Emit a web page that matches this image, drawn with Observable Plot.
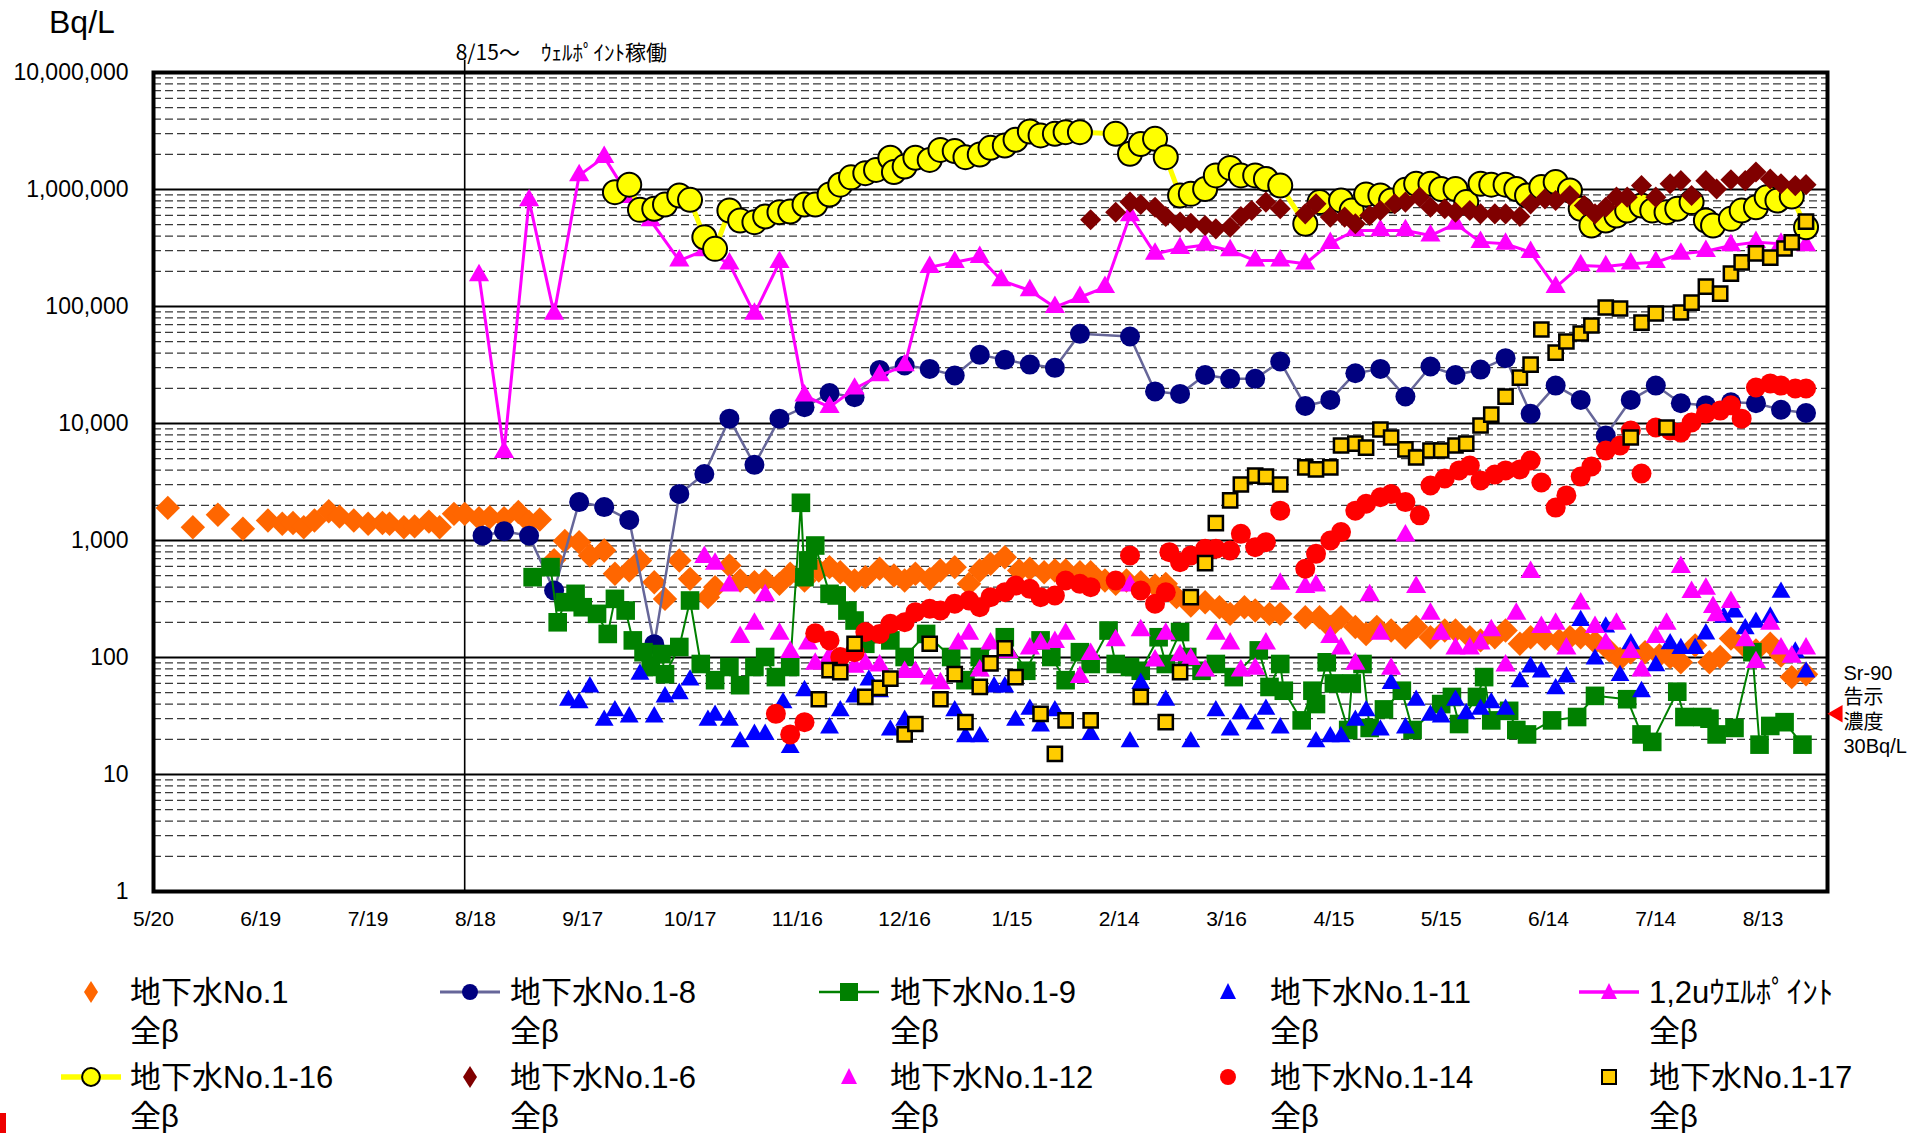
<!DOCTYPE html>
<html><head><meta charset="utf-8">
<script src="https://cdn.jsdelivr.net/npm/d3@7"></script>
<script src="https://cdn.jsdelivr.net/npm/@observablehq/plot@0.6"></script>
<style>
body{margin:0;background:#fff;width:1930px;height:1133px;position:relative;overflow:hidden;font-family:"Liberation Sans",Arial,"Noto Sans CJK JP",sans-serif;color:#000}
#chart{position:absolute;left:0;top:0}
.unit{position:absolute;left:49px;top:4px;font-size:32px;line-height:37px}
.lg{position:absolute;font-size:31px;line-height:39px;white-space:nowrap}
.sw{position:absolute;overflow:visible}
.redmark{position:absolute;left:0;top:1113px;width:6px;height:20px;background:#e00}
</style></head><body>
<div id="chart"></div>
<div class="unit">Bq/L</div>
<div id="legend"></div>
<div class="redmark"></div>
<script>
// ---------- data (date, Bq/L) ----------
const no1 = [["2013-05-24",1900],["2013-05-31",1300],["2013-06-07",1660],["2013-06-14",1260],["2013-06-21",1480],["2013-06-25",1390],["2013-06-28",1410],["2013-07-01",1300],["2013-07-04",1480],["2013-07-08",1780],["2013-07-11",1600],["2013-07-15",1480],["2013-07-19",1390],["2013-07-23",1410],["2013-07-25",1390],["2013-07-29",1300],["2013-08-01",1320],["2013-08-05",1450],["2013-08-08",1300],["2013-08-12",1690],["2013-08-15",1690],["2013-08-19",1550],["2013-08-22",1580],["2013-08-26",1550],["2013-08-30",1750],["2013-09-02",1440],["2013-09-05",1510],["2013-09-09",680],["2013-09-12",990],["2013-09-16",968],["2013-09-19",744],["2013-09-23",822],["2013-09-26",519],["2013-09-30",554],["2013-10-03",675],["2013-10-07",440],["2013-10-10",317],["2013-10-14",675],["2013-10-17",470],["2013-10-22",328],["2013-10-24",399],["2013-10-28",611],["2013-10-31",455],["2013-11-04",440],["2013-11-07",455],["2013-11-11",426],["2013-11-14",519],["2013-11-18",455],["2013-11-22",554],["2013-11-25",592],["2013-11-28",536],["2013-12-02",455],["2013-12-05",486],["2013-12-09",573],["2013-12-13",502],["2013-12-16",455],["2013-12-19",519],["2013-12-23",470],["2013-12-26",554],["2013-12-30",592],["2014-01-03",426],["2014-01-06",554],["2014-01-09",632],["2014-01-13",720],["2014-01-17",554],["2014-01-20",573],["2014-01-24",536],["2014-01-27",554],["2014-01-30",554],["2014-02-03",536],["2014-02-06",536],["2014-02-10",455],["2014-02-13",426],["2014-02-16",455],["2014-02-20",440],["2014-02-24",412],["2014-02-27",426],["2014-03-02",328],["2014-03-06",278],["2014-03-10",297],["2014-03-14",269],["2014-03-17",236],["2014-03-21",269],["2014-03-24",252],["2014-03-28",236],["2014-03-31",236],["2014-04-07",221],["2014-04-11",221],["2014-04-14",182],["2014-04-17",221],["2014-04-21",182],["2014-04-24",159],["2014-04-27",182],["2014-05-01",170],["2014-05-05",149],["2014-05-08",182],["2014-05-12",149],["2014-05-16",170],["2014-05-19",170],["2014-05-23",149],["2014-05-26",140],["2014-05-30",149],["2014-06-02",170],["2014-06-06",131],["2014-06-09",149],["2014-06-13",145],["2014-06-17",140],["2014-06-20",149],["2014-06-23",149],["2014-06-27",135],["2014-07-01",115],["2014-07-04",97],["2014-07-07",111],["2014-07-11",111],["2014-07-15",104],["2014-07-18",101],["2014-07-21",91],["2014-07-25",127],["2014-07-29",91],["2014-08-01",101],["2014-08-04",145],["2014-08-08",123],["2014-08-11",115],["2014-08-15",131],["2014-08-18",104],["2014-08-21",68],["2014-08-25",72]];

const no1_8 = [["2013-08-20",1100],["2013-08-26",1200],["2013-09-02",1100],["2013-09-09",374],["2013-09-16",2130],["2013-09-23",1930],["2013-09-30",1500],["2013-10-07",130],["2013-10-14",2500],["2013-10-21",3700],["2013-10-28",11000],["2013-11-04",4430],["2013-11-11",11000],["2013-11-18",13800],["2013-11-25",18200],["2013-12-02",16800],["2013-12-09",28700],["2013-12-16",31300],["2013-12-23",29300],["2013-12-30",25700],["2014-01-06",38600],["2014-01-13",35000],["2014-01-20",31900],["2014-01-27",29900],["2014-02-03",58400],["2014-02-17",55400],["2014-02-24",18800],["2014-03-03",17900],["2014-03-10",26000],["2014-03-17",24100],["2014-03-24",24100],["2014-03-31",33900],["2014-04-07",14100],["2014-04-14",15900],["2014-04-21",26900],["2014-04-28",29300],["2014-05-05",17000],["2014-05-12",30700],["2014-05-19",26000],["2014-05-26",28900],["2014-06-02",36200],["2014-06-09",12100],["2014-06-16",21100],["2014-06-23",15900],["2014-06-30",7900],["2014-07-07",15900],["2014-07-14",21100],["2014-07-21",14900],["2014-07-28",14300],["2014-08-04",15200],["2014-08-11",14900],["2014-08-18",13100],["2014-08-25",12300]];

const no1_9 = [["2013-09-03",486],["2013-09-08",592],["2013-09-10",200],["2013-09-12",297],["2013-09-15",350],["2013-09-17",269],["2013-09-21",236],["2013-09-24",159],["2013-09-26",317],["2013-09-29",252],["2013-10-01",140],["2013-10-04",111],["2013-10-06",83],["2013-10-09",107],["2013-10-10",72],["2013-10-14",123],["2013-10-17",307],["2013-10-20",88],["2013-10-24",64],["2013-10-28",83],["2013-10-31",58],["2013-11-04",83],["2013-11-07",101],["2013-11-10",68],["2013-11-14",83],["2013-11-17",2100],["2013-11-18",486],["2013-11-19",675],["2013-11-21",906],["2013-11-25",350],["2013-11-27",339],["2013-11-30",252],["2013-12-02",207],["2013-12-05",131],["2013-12-12",140],["2013-12-16",101],["2013-12-22",159],["2013-12-29",101],["2014-01-02",64],["2014-01-06",101],["2014-01-13",149],["2014-01-19",77],["2014-01-23",140],["2014-01-26",101],["2014-01-30",64],["2014-02-03",111],["2014-02-06",88],["2014-02-11",170],["2014-02-13",88],["2014-02-17",83],["2014-02-20",77],["2014-02-25",149],["2014-02-27",88],["2014-03-03",165],["2014-03-05",101],["2014-03-09",77],["2014-03-13",88],["2014-03-18",68],["2014-03-25",115],["2014-03-28",56],["2014-03-31",88],["2014-04-01",52],["2014-04-06",29],["2014-04-09",52],["2014-04-10",40],["2014-04-13",91],["2014-04-15",60],["2014-04-19",24],["2014-04-20",60],["2014-04-23",88],["2014-04-25",25],["2014-04-29",36],["2014-05-04",52],["2014-05-07",24],["2014-05-15",40],["2014-05-18",46],["2014-05-20",27],["2014-05-25",46],["2014-05-27",68],["2014-05-29",29],["2014-06-03",35],["2014-06-05",24],["2014-06-08",22],["2014-06-15",29],["2014-06-22",31],["2014-06-27",47],["2014-07-06",44],["2014-07-10",22],["2014-07-13",19],["2014-07-20",51],["2014-07-22",31],["2014-07-27",31],["2014-07-29",30],["2014-07-31",22],["2014-08-05",25],["2014-08-10",111],["2014-08-12",18],["2014-08-15",26],["2014-08-19",28],["2014-08-24",18]];

const no1_11 = [["2013-09-13",43],["2013-09-16",41],["2013-09-19",56],["2013-09-23",29],["2013-09-26",35],["2013-09-30",31],["2013-10-03",72],["2013-10-07",31],["2013-10-10",46],["2013-10-14",49],["2013-10-17",64],["2013-10-22",29],["2013-10-24",32],["2013-10-28",29],["2013-10-31",19],["2013-11-04",22],["2013-11-07",22],["2013-11-12",41],["2013-11-14",17],["2013-11-18",52],["2013-11-25",25],["2013-11-28",35],["2013-12-02",46],["2013-12-06",64],["2013-12-09",51],["2013-12-12",24],["2013-12-16",29],["2013-12-30",35],["2014-01-02",21],["2014-01-06",21],["2014-01-10",56],["2014-01-13",56],["2014-01-16",29],["2014-01-20",36],["2014-01-23",26],["2014-01-27",35],["2014-02-06",22],["2014-02-17",19],["2014-02-20",60],["2014-02-27",43],["2014-03-06",19],["2014-03-13",35],["2014-03-17",24],["2014-03-20",33],["2014-03-24",27],["2014-03-27",36],["2014-03-31",25],["2014-04-10",19],["2014-04-14",21],["2014-04-17",21],["2014-04-21",29],["2014-04-24",35],["2014-04-28",24],["2014-05-01",60],["2014-05-05",25],["2014-05-08",43],["2014-05-12",32],["2014-05-15",31],["2014-05-19",43],["2014-05-22",33],["2014-05-26",36],["2014-05-29",41],["2014-06-02",36],["2014-06-06",62],["2014-06-09",83],["2014-06-12",75],["2014-06-16",54],["2014-06-19",68],["2014-06-23",207],["2014-06-27",97],["2014-06-30",182],["2014-07-04",70],["2014-07-07",131],["2014-07-10",51],["2014-07-14",85],["2014-07-18",131],["2014-07-21",119],["2014-07-25",119],["2014-07-28",159],["2014-08-02",221],["2014-08-05",244],["2014-08-08",176],["2014-08-11",200],["2014-08-15",221],["2014-08-18",361],["2014-08-22",111],["2014-08-25",75]];

const wellPoint = [["2013-08-19",184000],["2013-08-26",5700],["2013-09-02",805000],["2013-09-09",86500],["2013-09-16",1320000],["2013-09-23",1890000],["2013-09-30",860000],["2013-10-06",543000],["2013-10-14",247000],["2013-10-21",301000],["2013-10-28",232000],["2013-11-04",86500],["2013-11-11",239000],["2013-11-18",17300],["2013-11-25",13800],["2013-12-02",19800],["2013-12-09",25700],["2013-12-16",31300],["2013-12-23",217000],["2013-12-30",239000],["2014-01-06",264000],["2014-01-12",167000],["2014-01-20",137000],["2014-01-27",98700],["2014-02-03",120000],["2014-02-10",146000],["2014-02-17",600000],["2014-02-24",282000],["2014-03-03",315000],["2014-03-10",336000],["2014-03-17",301000],["2014-03-24",247000],["2014-03-31",247000],["2014-04-07",232000],["2014-04-14",348000],["2014-04-21",446000],["2014-04-28",446000],["2014-05-05",446000],["2014-05-12",404000],["2014-05-19",509000],["2014-05-26",355000],["2014-06-02",343000],["2014-06-09",291000],["2014-06-16",146000],["2014-06-23",224000],["2014-06-30",220000],["2014-07-07",232000],["2014-07-14",239000],["2014-07-21",282000],["2014-07-28",297000],["2014-08-04",332000],["2014-08-11",355000],["2014-08-18",343000],["2014-08-25",332000]];

const no1_16 = [["2013-09-26",949000],["2013-09-30",1100000],["2013-10-03",670000],["2013-10-07",684000],["2013-10-10",745000],["2013-10-14",889000],["2013-10-17",816000],["2013-10-21",391000],["2013-10-24",311000],["2013-10-28",662000],["2013-10-31",543000],["2013-11-04",526000],["2013-11-07",588000],["2013-11-11",640000],["2013-11-14",648000],["2013-11-18",745000],["2013-11-21",745000],["2013-11-25",906000],["2013-11-28",1100000],["2013-12-01",1270000],["2013-12-05",1380000],["2013-12-08",1470000],["2013-12-12",1870000],["2013-12-13",1410000],["2013-12-16",1570000],["2013-12-19",1870000],["2013-12-23",1790000],["2013-12-26",2180000],["2013-12-30",2130000],["2014-01-02",1890000],["2014-01-06",1990000],["2014-01-09",2270000],["2014-01-13",2380000],["2014-01-16",2660000],["2014-01-20",3130000],["2014-01-23",2900000],["2014-01-27",2990000],["2014-01-30",3090000],["2014-02-03",3090000],["2014-02-13",2990000],["2014-02-17",2020000],["2014-02-20",2450000],["2014-02-24",2710000],["2014-02-27",1890000],["2014-03-03",889000],["2014-03-06",918000],["2014-03-10",1010000],["2014-03-13",1320000],["2014-03-17",1530000],["2014-03-20",1320000],["2014-03-24",1320000],["2014-03-27",1230000],["2014-03-31",1080000],["2014-04-07",509000],["2014-04-11",780000],["2014-04-17",805000],["2014-04-20",662000],["2014-04-24",906000],["2014-04-28",889000],["2014-05-01",805000],["2014-05-05",993000],["2014-05-08",1120000],["2014-05-12",1120000],["2014-05-15",1010000],["2014-05-19",1010000],["2014-05-22",780000],["2014-05-26",1120000],["2014-05-29",1100000],["2014-06-02",1100000],["2014-06-05",1010000],["2014-06-08",889000],["2014-06-12",1050000],["2014-06-16",1160000],["2014-06-20",980000],["2014-06-23",684000],["2014-06-26",492000],["2014-06-30",543000],["2014-07-03",600000],["2014-07-06",662000],["2014-07-10",730000],["2014-07-13",662000],["2014-07-17",640000],["2014-07-20",684000],["2014-07-24",780000],["2014-07-28",543000],["2014-07-30",492000],["2014-08-04",561000],["2014-08-07",662000],["2014-08-11",706000],["2014-08-14",860000],["2014-08-17",805000],["2014-08-21",871000],["2014-08-25",476000]];

const no1_6 = [["2014-02-06",551000],["2014-02-13",640000],["2014-02-17",780000],["2014-02-20",745000],["2014-02-24",706000],["2014-02-27",588000],["2014-03-03",526000],["2014-03-06",515000],["2014-03-10",492000],["2014-03-13",461000],["2014-03-17",476000],["2014-03-20",588000],["2014-03-23",662000],["2014-03-27",780000],["2014-03-31",684000],["2014-04-07",619000],["2014-04-10",754000],["2014-04-14",581000],["2014-04-18",581000],["2014-04-21",509000],["2014-04-25",600000],["2014-04-28",662000],["2014-05-02",754000],["2014-05-05",780000],["2014-05-09",860000],["2014-05-12",706000],["2014-05-16",684000],["2014-05-19",640000],["2014-05-23",662000],["2014-05-26",619000],["2014-05-30",619000],["2014-06-02",619000],["2014-06-06",588000],["2014-06-09",754000],["2014-06-13",831000],["2014-06-16",805000],["2014-06-20",889000],["2014-06-24",730000],["2014-06-27",619000],["2014-06-30",706000],["2014-07-03",860000],["2014-07-06",860000],["2014-07-10",1080000],["2014-07-14",860000],["2014-07-18",1120000],["2014-07-21",1190000],["2014-07-24",889000],["2014-07-28",1190000],["2014-07-31",1010000],["2014-08-04",1210000],["2014-08-08",1190000],["2014-08-11",1410000],["2014-08-15",1230000],["2014-08-18",1120000],["2014-08-22",1080000],["2014-08-25",1100000]];

const no1_12 = [["2013-10-21",720],["2013-10-24",632],["2013-10-28",412],["2013-10-31",149],["2013-11-04",194],["2013-11-07",339],["2013-11-11",159],["2013-11-14",111],["2013-11-19",131],["2013-11-21",88],["2013-11-25",101],["2013-12-02",83],["2013-12-05",88],["2013-12-09",85],["2013-12-16",75],["2013-12-19",75],["2013-12-23",66],["2013-12-26",60],["2013-12-31",131],["2014-01-03",159],["2014-01-06",77],["2014-01-09",131],["2014-01-14",111],["2014-01-20",119],["2014-01-23",131],["2014-01-27",135],["2014-01-30",159],["2014-02-03",68],["2014-02-06",107],["2014-02-13",140],["2014-02-17",412],["2014-02-20",170],["2014-02-24",94],["2014-02-27",159],["2014-03-03",104],["2014-03-06",97],["2014-03-10",77],["2014-03-13",159],["2014-03-17",131],["2014-03-20",77],["2014-03-24",80],["2014-03-27",131],["2014-03-31",426],["2014-04-07",399],["2014-04-10",412],["2014-04-14",149],["2014-04-17",119],["2014-04-21",88],["2014-04-25",339],["2014-04-28",159],["2014-05-01",80],["2014-05-05",1100],["2014-05-08",399],["2014-05-12",236],["2014-05-15",159],["2014-05-19",119],["2014-05-23",119],["2014-05-26",131],["2014-05-29",170],["2014-06-02",85],["2014-06-05",236],["2014-06-09",536],["2014-06-12",182],["2014-06-16",194],["2014-06-19",119],["2014-06-23",288],["2014-06-27",182],["2014-06-30",131],["2014-07-03",194],["2014-07-07",111],["2014-07-10",77],["2014-07-14",149],["2014-07-17",194],["2014-07-21",592],["2014-07-24",361],["2014-07-28",386],["2014-07-30",269],["2014-07-31",229],["2014-08-04",297],["2014-08-08",140],["2014-08-11",91],["2014-08-15",194],["2014-08-18",119],["2014-08-21",101],["2014-08-25",119]];

const no1_14 = [["2013-11-10",33],["2013-11-14",22],["2013-11-18",28],["2013-11-21",161],["2013-11-25",140],["2013-11-28",101],["2013-12-02",111],["2013-12-05",165],["2013-12-09",159],["2013-12-12",194],["2013-12-16",200],["2013-12-19",244],["2013-12-23",261],["2013-12-26",252],["2013-12-30",288],["2014-01-03",307],["2014-01-06",269],["2014-01-09",328],["2014-01-13",361],["2014-01-16",412],["2014-01-20",386],["2014-01-23",328],["2014-01-27",339],["2014-01-30",455],["2014-02-03",426],["2014-02-06",399],["2014-02-13",455],["2014-02-17",744],["2014-02-20",374],["2014-02-24",288],["2014-02-27",361],["2014-02-28",795],["2014-03-03",653],["2014-03-06",744],["2014-03-10",849],["2014-03-13",849],["2014-03-17",822],["2014-03-20",1140],["2014-03-24",877],["2014-03-27",968],["2014-03-31",1800],["2014-04-07",573],["2014-04-10",769],["2014-04-14",1000],["2014-04-17",1180],["2014-04-21",1800],["2014-04-24",2060],["2014-04-28",2340],["2014-05-01",2500],["2014-05-05",2130],["2014-05-09",1640],["2014-05-12",2950],["2014-05-16",3390],["2014-05-20",3970],["2014-05-23",4380],["2014-05-26",3260],["2014-05-30",3660],["2014-06-02",3970],["2014-06-06",4050],["2014-06-09",4830],["2014-06-12",3130],["2014-06-16",1910],["2014-06-19",2430],["2014-06-23",3520],["2014-06-26",4290],["2014-06-30",5880],["2014-07-04",6490],["2014-07-07",8710],["2014-07-10",3740],["2014-07-14",9240],["2014-07-18",8710],["2014-07-21",8370],["2014-07-24",10200],["2014-07-28",12200],["2014-08-01",12900],["2014-08-04",14300],["2014-08-07",11000],["2014-08-11",20300],["2014-08-15",22000],["2014-08-18",21100],["2014-08-22",19900],["2014-08-25",19900]];

const no1_17 = [["2013-11-22",44],["2013-11-25",78],["2013-11-28",75],["2013-12-02",131],["2013-12-05",46],["2013-12-09",55],["2013-12-12",66],["2013-12-16",22],["2013-12-19",27],["2013-12-23",131],["2013-12-26",44],["2013-12-30",72],["2014-01-02",28],["2014-01-06",56],["2014-01-09",89],["2014-01-13",120],["2014-01-16",68],["2014-01-23",33],["2014-01-27",15],["2014-01-30",29],["2014-02-06",29],["2014-02-20",46],["2014-02-27",28],["2014-03-03",75],["2014-03-06",328],["2014-03-10",640],["2014-03-13",1410],["2014-03-17",2200],["2014-03-20",3010],["2014-03-24",3590],["2014-03-27",3520],["2014-03-31",3010],["2014-04-07",4210],["2014-04-10",4050],["2014-04-14",4210],["2014-04-17",6490],["2014-04-21",6740],["2014-04-24",6230],["2014-04-28",8890],["2014-05-01",7590],["2014-05-05",6000],["2014-05-08",5120],["2014-05-12",5880],["2014-05-15",5880],["2014-05-19",6490],["2014-05-22",6740],["2014-05-26",9620],["2014-05-29",11900],["2014-06-02",17000],["2014-06-06",24700],["2014-06-09",31900],["2014-06-12",63600],["2014-06-16",40400],["2014-06-19",50200],["2014-06-23",58800],["2014-06-26",68800],["2014-06-30",98000],["2014-07-04",96200],["2014-07-07",7590],["2014-07-10",72900],["2014-07-14",87100],["2014-07-17",9240],["2014-07-21",88900],["2014-07-24",108000],["2014-07-28",148000],["2014-08-01",129000],["2014-08-04",191000],["2014-08-07",238000],["2014-08-11",284000],["2014-08-15",262000],["2014-08-19",313000],["2014-08-21",353000],["2014-08-25",532000]];

// axis ticks / labels
const xTickDates = ["2013-05-20","2013-06-19","2013-07-19","2013-08-18","2013-09-17","2013-10-17","2013-11-16","2013-12-16","2014-01-15","2014-02-14","2014-03-16","2014-04-15","2014-05-15","2014-06-14","2014-07-14","2014-08-13"];
const yTicks = [1,10,100,1000,10000,100000,1000000,10000000];
const xStart = "2013-05-20", xEnd = "2014-08-31";
const wellPointStart = "2013-08-15";
const wellPointNote = "8/15～　ｳｪﾙﾎﾟｲﾝﾄ稼働";
const srNote = "Sr-90\n告示\n濃度\n30Bq/L";
const srLimit = 30;

const legendLabels = ["地下水No.1","地下水No.1-8","地下水No.1-9","地下水No.1-11","1,2uｳｴﾙﾎﾟｲﾝﾄ","地下水No.1-16","地下水No.1-6","地下水No.1-12","地下水No.1-14","地下水No.1-17"];

// ---------- build ----------
const parse = d3.utcParse("%Y-%m-%d");
const rows = arr => arr.map(([d, v]) => ({date: parse(d), value: v}));
const xDomain = [parse(xStart), parse(xEnd)];
const yMinor = [];
for (let n = 0; n < 7; n++) for (let k = 2; k < 10; k++) yMinor.push(k * 10 ** n);
const yMajor = yTicks.slice(1, -1);

const S = {
  no1:   {fill:"#FF6600", symbol:"diamond2", r:11},
  n18:   {fill:"#000080", symbol:"circle", r:10, line:"#666699", lw:2.5},
  n19:   {fill:"#008000", symbol:"square", r:10.5, line:"#008000", lw:2},
  n111:  {fill:"#0000FF", symbol:"triangle", r:7},
  wp:    {fill:"#FF00FF", symbol:"triangle", r:7.5, line:"#FF00FF", lw:3},
  n116:  {fill:"#FFFF00", symbol:"circle", r:12, stroke:"#000", sw:2, line:"#FFFF00", lw:5},
  n16:   {fill:"#800000", symbol:"diamond2", r:9.5},
  n112:  {fill:"#FF00FF", symbol:"triangle", r:7.5},
  n114:  {fill:"#FF0000", symbol:"circle", r:10},
  n117:  {fill:"#FFCC00", symbol:"square", r:8, stroke:"#000", sw:2.5}
};
const seriesList = [["no1",no1],["n18",no1_8],["n19",no1_9],["n111",no1_11],["wp",wellPoint],["n116",no1_16],["n16",no1_6],["n112",no1_12],["n114",no1_14],["n117",no1_17]];

const dataMarks = [];
for (const [key, arr] of seriesList) {
  const s = S[key], data = rows(arr);
  if (s.line) dataMarks.push(Plot.line(data, {x:"date", y:"value", stroke:s.line, strokeWidth:s.lw}));
  dataMarks.push(Plot.dot(data, {x:"date", y:"value", symbol:s.symbol, r:s.r, fill:s.fill,
    stroke: s.stroke || "none", strokeWidth: s.sw || 0}));
}

const fmtDate = d => `${d.getUTCMonth() + 1}/${d.getUTCDate()}`;

const chart = Plot.plot({
  width: 1930, height: 950,
  marginLeft: 153, marginRight: 103, marginTop: 72, marginBottom: 59,
  style: {fontFamily: "'Liberation Sans', Arial, 'Noto Sans CJK JP', sans-serif", background: "white", overflow: "visible", color: "#000"},
  x: {type: "utc", domain: xDomain},
  y: {type: "log", domain: [1, 1e7]},
  marks: [
    Plot.ruleY(yMinor, {stroke: "#3a3a3a", strokeWidth: 1.2, strokeDasharray: "8,4"}),
    Plot.ruleY(yMajor, {stroke: "#000", strokeWidth: 2.2}),
    Plot.ruleX([parse(wellPointStart)], {y1: 1, y2: 1.27e7, stroke: "#000", strokeWidth: 1.6}),
    Plot.frame({stroke: "#000", strokeWidth: 4}),
    Plot.axisY({ticks: yTicks, tickFormat: d3.format(","), tickSize: 0, tickPadding: 25, fontSize: 23, label: null}),
    Plot.axisX({ticks: xTickDates.map(parse), tickFormat: fmtDate, tickSize: 0, tickPadding: 20, fontSize: 21, label: null}),
    ...dataMarks,
    Plot.text([{date: parse(wellPointStart), label: wellPointNote}], {x: "date", frameAnchor: "top", dy: -27, dx: -9, text: "label", textAnchor: "start", fontSize: 21, fontFamily: "'Liberation Sans Narrow','Noto Sans CJK JP',sans-serif"}),
    Plot.text([{date: xDomain[1], value: srLimit, label: srNote}], {x: "date", y: "value", text: "label", textAnchor: "start", dx: 16, dy: -10, fontSize: 20, lineHeight: 1.22}),
    Plot.dot([{date: xDomain[1], value: srLimit}], {x: "date", y: "value", symbol: "triangle", rotate: -90, r: 6.5, fill: "#FF0000", dx: 10, dy: -5})
  ]
});
document.getElementById("chart").appendChild(chart);

// ---------- legend ----------
const keys = ["no1","n18","n19","n111","wp","n116","n16","n112","n114","n117"];
const markerX = [91, 470, 849, 1228, 1609];
const textX = [130, 510, 890, 1270, 1649];
const rowY = [992, 1077];
const lg = document.getElementById("legend");
keys.forEach((k, i) => {
  const s = S[k], col = i % 5, row = Math.floor(i / 5);
  const cx = markerX[col], cy = rowY[row];
  const svg = d3.create("svg").attr("class", "sw").attr("width", 80).attr("height", 40)
    .style("left", (cx - 40) + "px").style("top", (cy - 20) + "px");
  if (s.line) svg.append("line").attr("x1", 10).attr("x2", 70).attr("y1", 20).attr("y2", 20)
    .attr("stroke", s.line).attr("stroke-width", s.lw + 0.5);
  let path;
  if (s.symbol === "diamond2") path = "M0,-11L7,0L0,11L-7,0Z";
  else if (s.symbol === "triangle") path = "M0,-9L8,7L-8,7Z";
  else if (s.symbol === "square") path = s.stroke ? "M-7,-7H7V7H-7Z" : "M-9,-9H9V9H-9Z";
  else path = d3.symbol(d3.symbolCircle, s.stroke ? 250 : 200)();
  svg.append("path").attr("d", path).attr("transform", "translate(40,20)")
    .attr("fill", s.fill).attr("stroke", s.stroke || "none").attr("stroke-width", s.sw ? 2 : 0);
  lg.appendChild(svg.node());
  const t = document.createElement("div");
  t.className = "lg";
  t.style.left = textX[col] + "px";
  t.style.top = (cy - 19.5) + "px";
  t.innerHTML = legendLabels[i] + "<br>全β";
  lg.appendChild(t);
});
</script>
</body></html>
